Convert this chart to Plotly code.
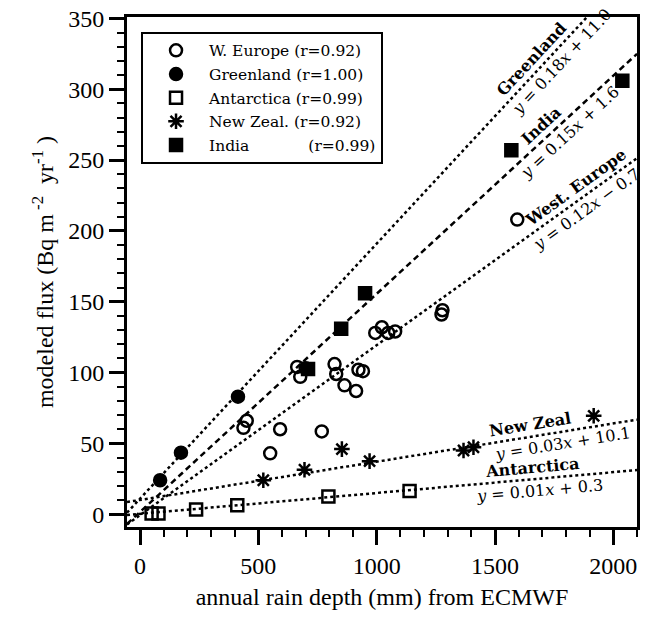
import math
import plotly.graph_objects as go

# ---------------- data ----------------
weur_x = [437, 451, 550, 592, 664, 677, 700, 768, 822, 829, 864, 913, 923, 942,
          994, 1022, 1049, 1078, 1274, 1278, 1594]
weur_y = [61, 66, 43, 60, 104, 97, 103, 58.5, 106, 99, 91, 87, 102, 101,
          128, 132, 128, 129, 141, 144, 208]

green_x = [85, 173, 414]
green_y = [24, 43.5, 83]

ant_x = [49, 78, 237, 411, 796, 1139]
ant_y = [0.5, 0.5, 3.3, 6.3, 12.6, 16.4]

nz_x = [521, 695, 853, 970, 1367, 1409, 1917]
nz_y = [24, 31.4, 46, 37.5, 45, 47.3, 69.5]

india_x = [710, 850, 951, 1569, 2038]
india_y = [102.5, 131, 156, 257, 306]

legend_names = ["W. Europe (r=0.92)", "Greenland (r=1.00)", "Antarctica (r=0.99)",
                "New Zeal. (r=0.92)",
                "India\u00a0\u00a0\u00a0\u00a0\u00a0\u00a0\u00a0\u00a0\u00a0\u00a0\u00a0\u00a0(r=0.99)"]

# regression lines (slope, intercept) and their labels
fit_names = ["Greenland", "India", "West. Europe", "New Zeal", "Antarctica"]
fit_slope = [0.18, 0.154, 0.12, 0.027, 0.0147]
fit_inter = [11.0, 1.6, -0.7, 10.1, 0.3]
fit_eq = ["<i>y</i> = 0.18<i>x</i> + 11.0", "<i>y</i> = 0.15<i>x</i> + 1.6",
          "<i>y</i> = 0.12<i>x</i> \u2212 0.7", "<i>y</i> = 0.03<i>x</i> + 10.1",
          "<i>y</i> = 0.01<i>x</i> + 0.3"]
fit_dash = ["dot", "6px,4px", "dot", "dot", "dot"]
name_at_x = [1690, 1730, 1870, 1657, 1662]   # along-line position of name label
eq_at_x = [1745, 1780, 1855, 1776, 1683]     # along-line position of equation label

x_ticks = [0, 500, 1000, 1500, 2000]
y_ticks = [0, 50, 100, 150, 200, 250, 300, 350]
x_range = [-55, 2100]
y_range = [-9, 351]

# --------------- figure ---------------
fig = go.Figure()

W, H = 652, 625
ml, mr, mt, mb = 127, 15, 17, 98
pw, ph = W - ml - mr, H - mt - mb
sx = pw / (x_range[1] - x_range[0])
sy = ph / (y_range[1] - y_range[0])

for name, m, b, dash in zip(fit_names, fit_slope, fit_inter, fit_dash):
    xs = [x_range[0], x_range[1]]
    ys = [m * v + b for v in xs]
    fig.add_trace(go.Scatter(x=xs, y=ys, mode="lines",
                             line=dict(color="black", width=2.5, dash=dash),
                             showlegend=False, hoverinfo="skip"))

mk = dict(color="black", size=12, line=dict(color="black", width=2.5))
fig.add_trace(go.Scatter(x=weur_x, y=weur_y, mode="markers", name=legend_names[0],
                         marker=dict(symbol="circle-open", **mk), legendgroup="a"))
fig.add_trace(go.Scatter(x=green_x, y=green_y, mode="markers", name=legend_names[1],
                         marker=dict(symbol="circle", **mk), legendgroup="b"))
fig.add_trace(go.Scatter(x=ant_x, y=ant_y, mode="markers", name=legend_names[2],
                         marker=dict(symbol="square-open", **mk), legendgroup="c"))
fig.add_trace(go.Scatter(x=nz_x, y=nz_y, mode="markers", name=legend_names[3],
                         marker=dict(symbol="asterisk-open", color="black", size=13,
                                     line=dict(color="black", width=2.5)), legendgroup="d"))
fig.add_trace(go.Scatter(x=india_x, y=india_y, mode="markers", name=legend_names[4],
                         marker=dict(symbol="square", **mk), legendgroup="e"))

d = 12  # perpendicular pixel offset of labels from their line
for name, eq, m, b, nx, ex in zip(fit_names, fit_eq, fit_slope, fit_inter, name_at_x, eq_at_x):
    th = math.atan(m * sy / sx)
    ang = -math.degrees(th)
    fig.add_annotation(x=nx, y=m * nx + b, text="<b>" + name + "</b>", showarrow=False,
                       textangle=ang, xshift=-d * math.sin(th), yshift=d * math.cos(th),
                       font=dict(family="DejaVu Serif", size=16, color="black"))
    fig.add_annotation(x=ex, y=m * ex + b, text=eq, showarrow=False,
                       textangle=ang, xshift=d * math.sin(th), yshift=-d * math.cos(th),
                       font=dict(family="DejaVu Serif", size=16, color="black"))

axis_common = dict(showgrid=False, zeroline=False, showline=True, linewidth=3,
                   linecolor="black", mirror=True, ticks="outside", ticklen=15,
                   tickwidth=2.5, tickcolor="black", automargin=False,
                   ticklabeloverflow="allow",
                   tickfont=dict(family="Liberation Serif", size=24, color="black"))

fig.update_xaxes(range=x_range, tickvals=x_ticks,
                 minor=dict(ticks="outside", dtick=100, ticklen=7, tickwidth=2, tickcolor="black"),
                 title=dict(text="annual rain depth (mm) from ECMWF", standoff=11,
                            font=dict(family="Liberation Serif", size=24, color="black")),
                 **axis_common)
fig.update_yaxes(range=y_range, tickvals=y_ticks,
                 minor=dict(ticks="outside", dtick=10, ticklen=7, tickwidth=2, tickcolor="black"),
                 title=dict(text="modeled flux (Bq m<sup> -2</sup>  yr<sup>-1</sup> )", standoff=8,
                            font=dict(family="Liberation Serif", size=24, color="black")),
                 **axis_common)

fig.update_layout(width=W, height=H, margin=dict(l=ml, r=mr, t=mt, b=mb),
                  plot_bgcolor="white", paper_bgcolor="white",
                  legend=dict(x=0.0275, y=0.971, xanchor="left", yanchor="top",
                              bordercolor="black", borderwidth=2, bgcolor="white",
                              itemwidth=56, tracegroupgap=0.5,
                              font=dict(family="DejaVu Serif", size=15.5, color="black")))

fig.write_html("out.html", config={"displayModeBar": False},
               post_script="document.body.style.margin='0';")
